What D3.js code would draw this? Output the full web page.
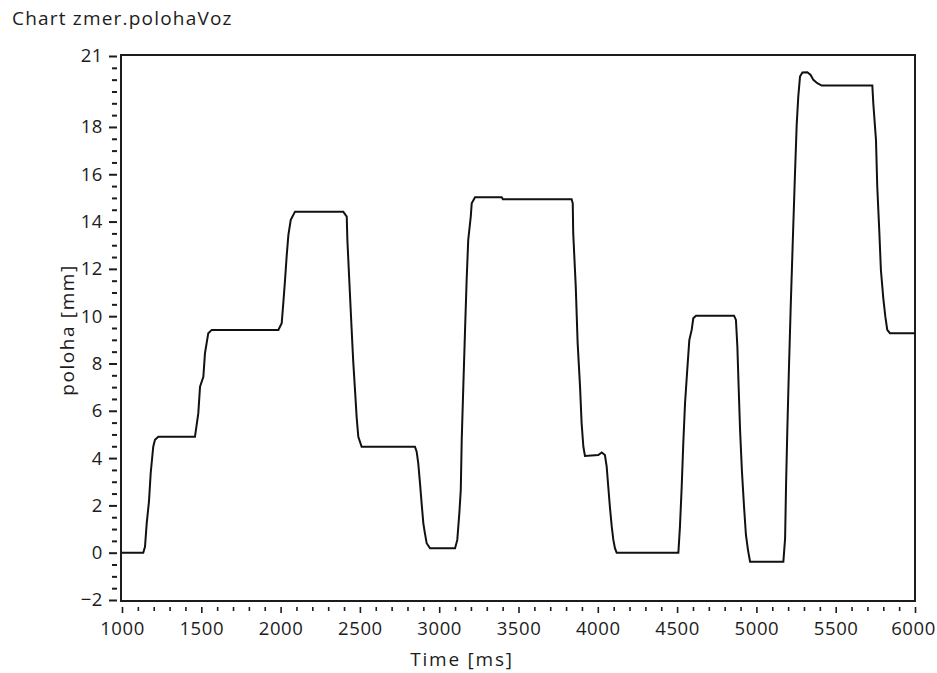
<!DOCTYPE html>
<html>
<head>
<meta charset="utf-8">
<script src="https://cdn.jsdelivr.net/npm/d3@7"></script>
<style>
  body { margin: 0; background: #fff; }
  text { font-family: "Open Sans", "Noto Sans", sans-serif; fill: #1c1c1c; }
</style>
</head>
<body>
<svg width="937" height="673"></svg>
<script>
// measured samples of zmer.polohaVoz
var time = [1000, 1134, 1145, 1156, 1170, 1181, 1197, 1208, 1229, 1460, 1481, 1492, 1513, 1523, 1544, 1566,
  1986, 2007, 2017, 2028, 2038, 2049, 2064, 2091, 2395, 2417, 2421, 2433, 2446, 2458, 2471, 2480, 2490, 2511,
  2847, 2858, 2868, 2879, 2890, 2900, 2910, 2921, 2942, 3100, 3114, 3127, 3136, 3142, 3152, 3163, 3173, 3183,
  3199, 3205, 3226, 3394, 3402, 3835, 3842, 3845, 3861, 3873, 3888, 3898, 3909, 3919, 4003, 4025, 4045, 4056,
  4066, 4077, 4088, 4098, 4108, 4119, 4508, 4518, 4529, 4539, 4550, 4564, 4577, 4592, 4602, 4619, 4859, 4871,
  4880, 4888, 4897, 4909, 4922, 4934, 4947, 4960, 5170, 5181, 5187, 5195, 5204, 5216, 5229, 5243, 5254, 5264,
  5275, 5290, 5321, 5342, 5359, 5384, 5412, 5731, 5737, 5754, 5762, 5775, 5785, 5800, 5813, 5825, 5842, 6000];
var poloha = [0, 0, 0.25, 1.26, 2.16, 3.37, 4.48, 4.77, 4.9, 4.9, 5.89, 7.02, 7.44, 8.43, 9.28, 9.42,
  9.42, 9.7, 10.55, 11.53, 12.52, 13.43, 14.07, 14.42, 14.42, 14.21, 13.22, 11.53, 9.7, 8.08, 6.67, 5.68, 4.9, 4.48,
  4.48, 4.27, 3.78, 2.93, 2.02, 1.24, 0.82, 0.4, 0.19, 0.19, 0.54, 1.67, 2.65, 4.77, 7.02, 9.42, 11.53, 13.22,
  14.21, 14.77, 15.03, 15.03, 14.94, 14.94, 14.77, 13.51, 11.25, 8.85, 7.02, 5.47, 4.48, 4.09, 4.13, 4.24, 4.13, 3.64,
  2.79, 1.88, 1.1, 0.54, 0.19, 0, 0, 1.1, 2.79, 4.63, 6.32, 7.73, 8.99, 9.42, 9.91, 10.02, 10.02, 9.84,
  8.71, 7.02, 5.19, 3.42, 1.95, 0.75, 0.11, -0.38, -0.38, 0.61, 2.86, 5.19, 7.51, 10.33, 13.08, 15.97, 18.08, 19.28,
  20.13, 20.3, 20.31, 20.2, 19.99, 19.85, 19.75, 19.75, 19.0, 17.45, 15.48, 13.57, 11.95, 10.76, 9.98, 9.42, 9.28, 9.28];

var xMajor = [1000, 1500, 2000, 2500, 3000, 3500, 4000, 4500, 5000, 5500, 6000];
var yMajor = [-2, 0, 2, 4, 6, 8, 10, 12, 14, 16, 18, 21];

var svg = d3.select("svg");
var plotLeft = 122, plotRight = 915, plotTop = 56, plotBottom = 600;

var x = d3.scaleLinear().domain([1000, 6000]).range([plotLeft, plotRight]);
var y = d3.scaleLinear().domain([-2, 21]).range([plotBottom, plotTop]);

var xMinor = d3.range(1000, 6001, 100).filter(function(d) { return xMajor.indexOf(d) < 0; });
var yMinor = d3.range(-2, 21.01, 0.5).filter(function(d) { return yMajor.indexOf(d) < 0; });

// title
svg.append("text")
  .attr("x", 12).attr("y", 25)
  .style("font-size", "19px")
  .style("letter-spacing", "1.2px")
  .text("Chart zmer.polohaVoz");

// y axis ticks, detached from the frame a little
var yg = svg.append("g").attr("transform", "translate(" + (plotLeft - 5) + ",0)");
yg.call(d3.axisLeft(y).tickValues(yMinor).tickSize(5).tickFormat(""));
yg.append("g").call(d3.axisLeft(y).tickValues(yMajor).tickSize(8).tickPadding(6));
yg.selectAll(".domain").remove();
yg.selectAll("line").attr("stroke", "#1c1c1c").attr("stroke-width", 2);
yg.selectAll("text").style("font-size", "18.5px").style("letter-spacing", "0.6px").attr("fill", "#1c1c1c");

// x axis ticks
var xg = svg.append("g").attr("transform", "translate(0," + (plotBottom + 7) + ")");
xg.call(d3.axisBottom(x).tickValues(xMinor).tickSize(4).tickFormat(""));
xg.append("g").call(d3.axisBottom(x).tickValues(xMajor).tickSize(6).tickPadding(9).tickFormat(d3.format("d")));
xg.selectAll(".domain").remove();
xg.selectAll("line").attr("stroke", "#1c1c1c").attr("stroke-width", 1.6);
xg.selectAll("text").style("font-size", "18.5px").style("letter-spacing", "0.6px").attr("fill", "#1c1c1c");
// keep the last label inside the window
xg.selectAll("text").filter(function(d) { return d === 6000; }).attr("dx", "-2");

// frame
svg.append("rect")
  .attr("x", plotLeft - 1).attr("y", plotTop - 1)
  .attr("width", plotRight - plotLeft + 1).attr("height", plotBottom - plotTop + 2)
  .attr("fill", "none").attr("stroke", "#1c1c1c").attr("stroke-width", 2);

// series
var line = d3.line()
  .x(function(d, i) { return x(time[i]); })
  .y(function(d) { return y(d); });

svg.append("path")
  .datum(poloha)
  .attr("d", line)
  .attr("fill", "none")
  .attr("stroke", "#111")
  .attr("stroke-width", 2)
  .attr("stroke-linejoin", "miter");

// axis titles
svg.append("text")
  .attr("x", 462).attr("y", 666)
  .attr("text-anchor", "middle")
  .style("font-size", "19px")
  .style("letter-spacing", "1.8px")
  .text("Time [ms]");

svg.append("text")
  .attr("transform", "translate(74,330) rotate(-90)")
  .attr("text-anchor", "middle")
  .style("font-size", "19px")
  .style("letter-spacing", "1.6px")
  .text("poloha [mm]");
</script>
</body>
</html>
